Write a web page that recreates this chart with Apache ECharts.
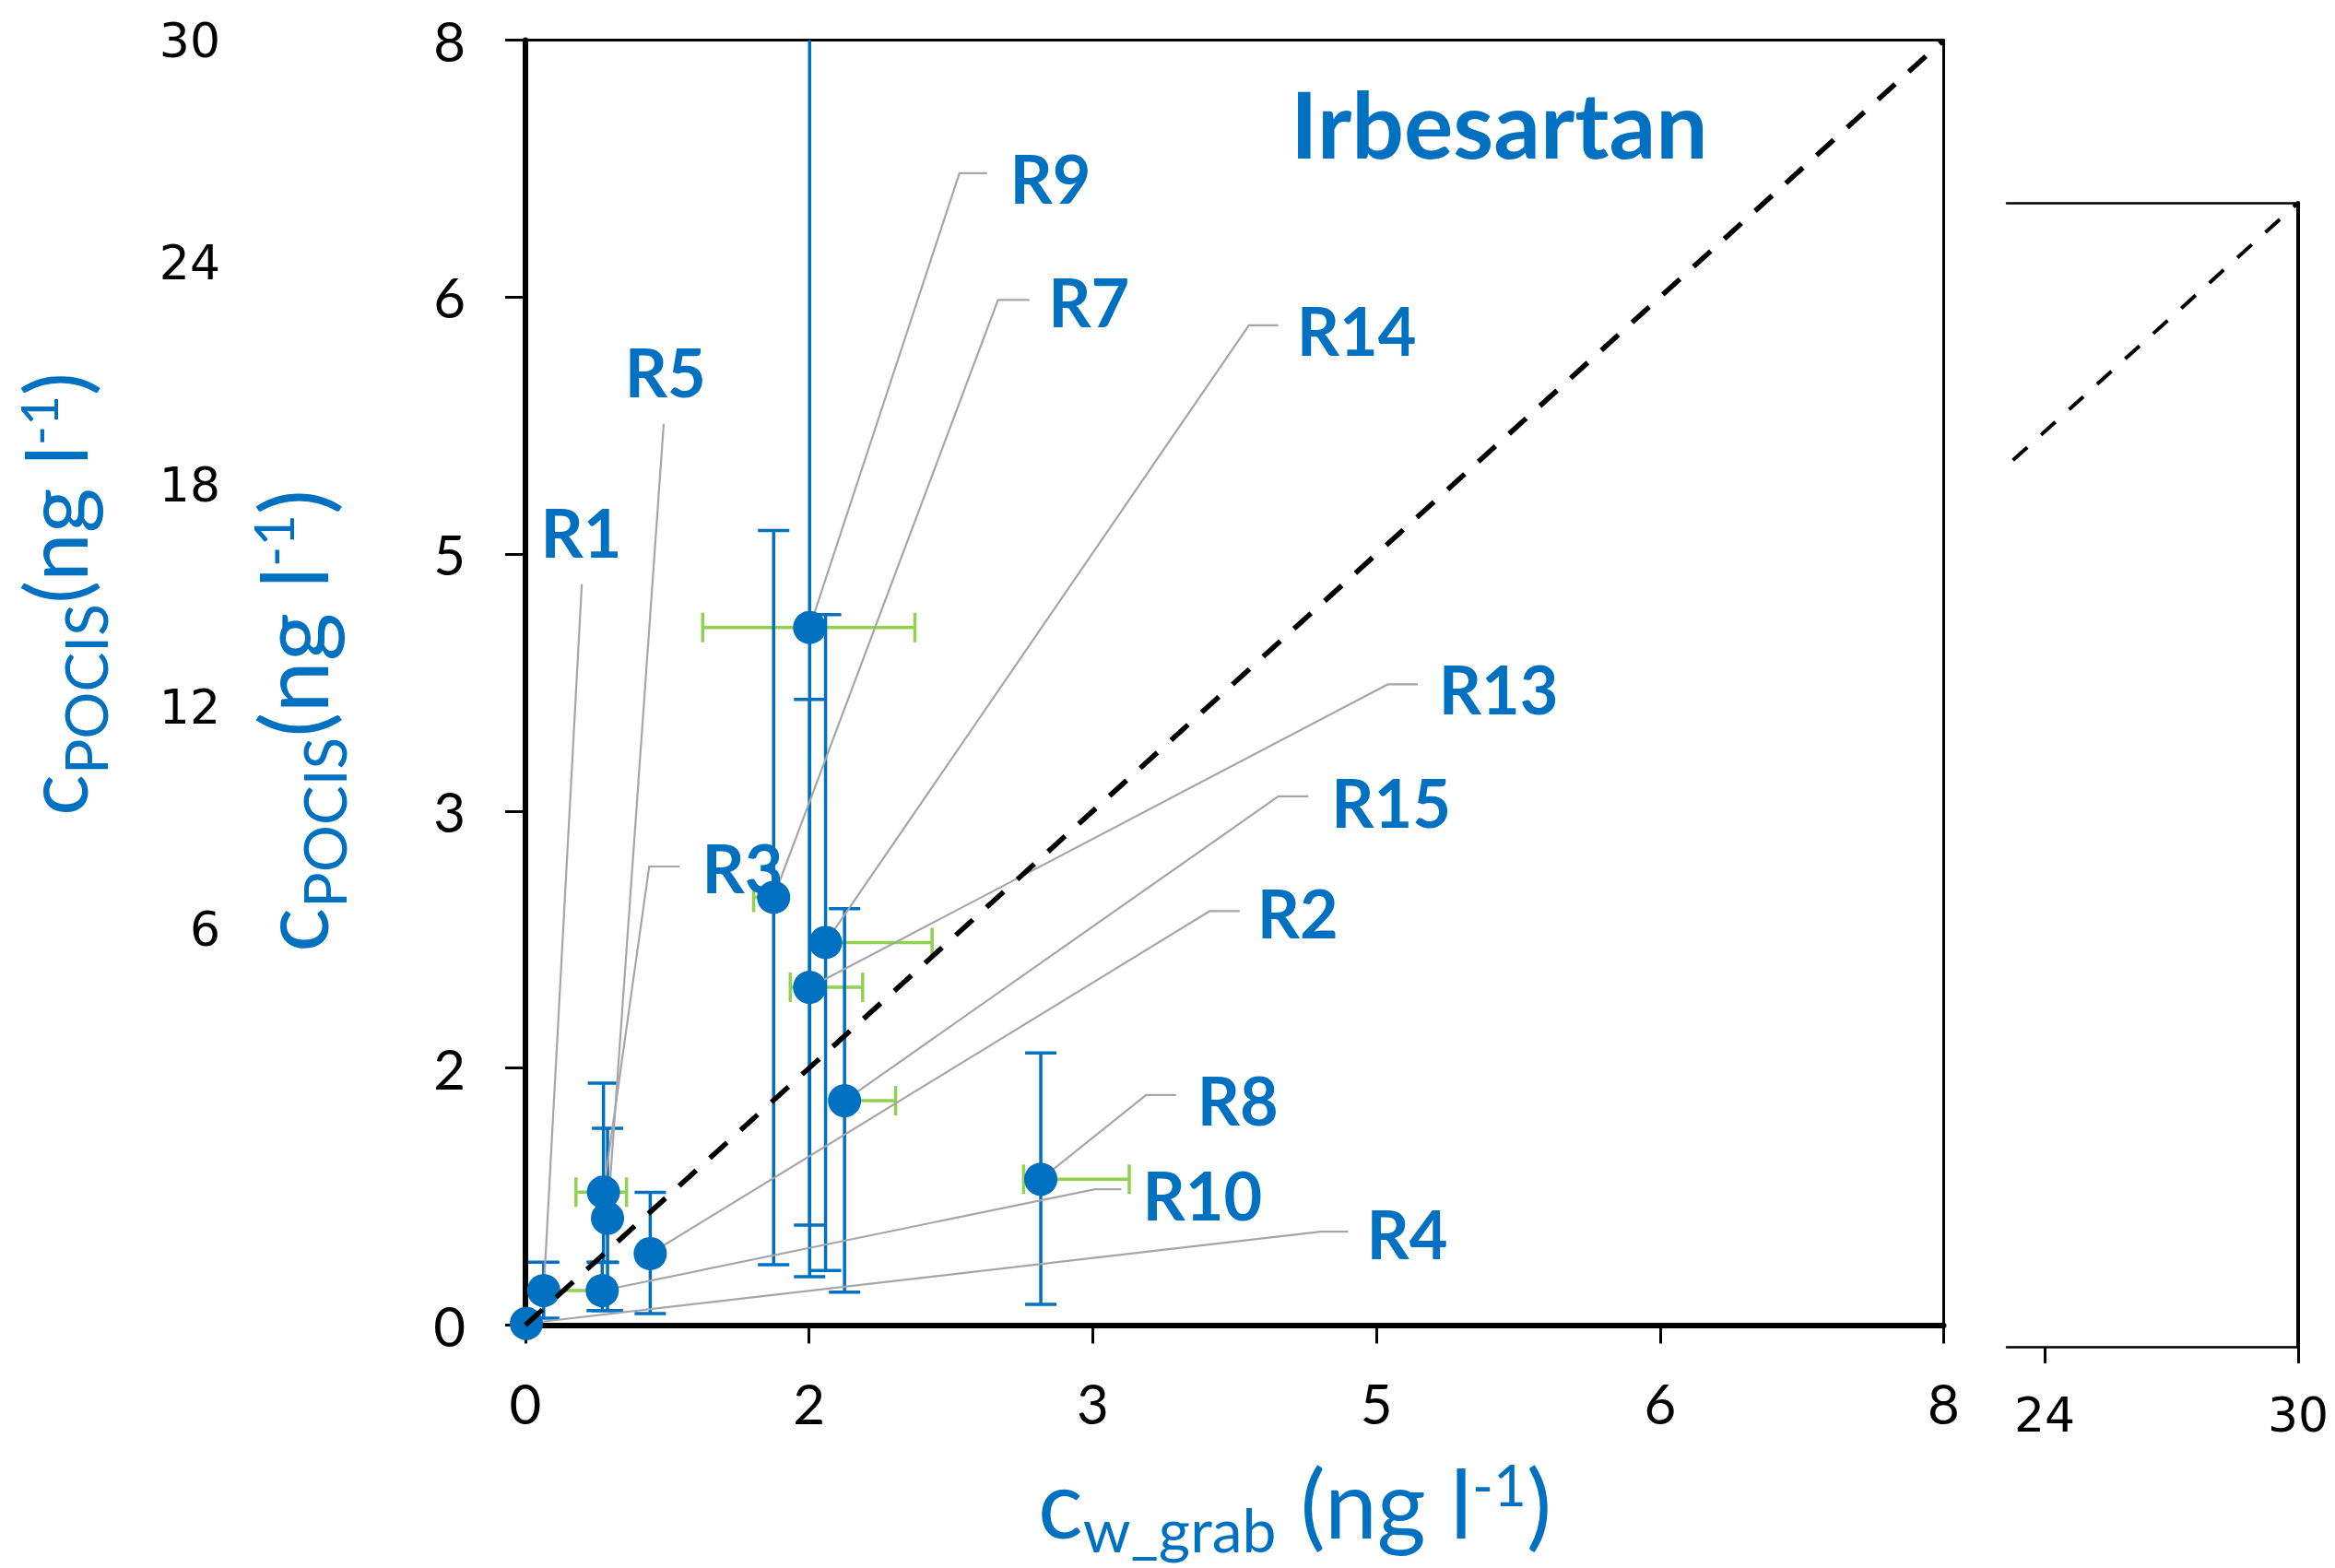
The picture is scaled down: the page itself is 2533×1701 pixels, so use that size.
<!DOCTYPE html>
<html>
<head>
<meta charset="utf-8">
<title>Irbesartan</title>
<script src="https://cdn.jsdelivr.net/npm/echarts@6.0.0/dist/echarts.min.js"></script>
<style>
  html, body { margin: 0; padding: 0; background: #ffffff; }
  #main { width: 2533px; height: 1701px; }
</style>
</head>
<body>
<div id="main"></div>
<script>
const BLUE = '#0070C0';
const GREEN = '#92D050';
const GREY = '#A6A6A6';
const LATO = 'Lato, "Liberation Sans", sans-serif';
const DEJAVU = '"DejaVu Sans", sans-serif';
const AXIS_MAX = 8;

// tick labels (main axes run 0..8 in steps of 1.6, shown rounded)
const mainTickLabels = ['0', '2', '3', '5', '6', '8'];
const ghostYLabels = ['', '6', '12', '18', '24', '30'];
const insetXLabels = [24, 30];

// points: c_w_grab (x) vs c_POCIS (y)
const pointX = [0.005, 0.103, 0.433, 0.44, 0.463, 0.704, 1.40, 1.603, 1.693, 1.603, 1.80, 2.907];
const pointY = [0.01, 0.215, 0.215, 0.828, 0.665, 0.445, 2.663, 4.343, 2.382, 2.103, 1.397, 0.908];
const yErrLow = [null, 0.043, 0.091, 0.39, 0.09, 0.072, 0.376, 0.301, 0.34, 0.623, 0.205, 0.129];
const yErrHigh = [null, 0.391, 0.391, 1.506, 1.225, 0.827, 4.947, 8.6, 4.423, 3.895, 2.593, 1.694];
const xErrLow = [null, 0.103, null, 0.285, null, null, 1.287, 1.0, 1.693, 1.494, 1.80, 2.81];
const xErrHigh = [null, 0.40, null, 0.57, null, null, 1.40, 2.197, 2.294, 1.902, 2.088, 3.406];

// site labels and their leader lines
const siteNames = ['R1', 'R5', 'R3', 'R9', 'R7', 'R14', 'R13', 'R15', 'R2', 'R8', 'R10', 'R4'];
const siteTarget = [1, 4, 3, 7, 6, 8, 9, 10, 5, 11, 2, 0];
const siteLabelX = [0.086, 0.56, 0.996, 2.732, 2.95, 4.351, 5.152, 4.546, 4.127, 3.789, 3.481, 4.745];
const siteLabelY = [4.939, 5.935, 2.849, 7.143, 6.373, 6.197, 3.96, 3.259, 2.568, 1.403, 0.812, 0.571];
const kneeX = [0.318, 0.78, 0.698, 2.448, 2.666, 4.081, 4.864, 4.247, 3.859, 3.501, 3.212, 4.486];
const kneeY = [4.613, 5.611, 2.855, 7.171, 6.382, 6.225, 3.989, 3.292, 2.577, 1.432, 0.846, 0.582];
const leaderEndX = [0.318, 0.78, 0.87, 2.604, 2.843, 4.246, 5.033, 4.416, 4.029, 3.67, 3.361, 4.641];

// 1:1 lines
const oneToOneMain = [0, 8];
const oneToOneInset = [23.25, 30];

const measureCtx = document.createElement('canvas').getContext('2d');
function textWidth(str, size) {
  measureCtx.font = size + 'px ' + LATO;
  return measureCtx.measureText(str).width;
}
function midOffset(size, weight) {
  measureCtx.font = (weight || 'normal') + ' ' + size + 'px ' + LATO;
  measureCtx.textBaseline = 'alphabetic';
  const m = measureCtx.measureText('c');
  if (m.fontBoundingBoxAscent) {
    return (m.fontBoundingBoxAscent - m.fontBoundingBoxDescent) / 2;
  }
  return 0.387 * size;
}

// axis title with sub/superscripts, laid out run by run
function titleGroup(parts, x, y, rotation) {
  let cursor = 0;
  const children = parts.map(function (p) {
    const el = {
      type: 'text',
      x: cursor,
      y: (p.shift || 0) - midOffset(p.size),
      style: {
        text: p.text,
        font: p.size + 'px ' + LATO,
        fill: BLUE,
        textAlign: 'left', textVerticalAlign: 'middle',
        align: 'left', verticalAlign: 'middle'
      }
    };
    cursor += textWidth(p.text, p.size);
    return el;
  });
  return { type: 'group', x: x, y: y, rotation: rotation, silent: true, children: children };
}

function capLine(x1, y1, x2, y2, color) {
  return { type: 'line', shape: { x1: x1, y1: y1, x2: x2, y2: y2 }, style: { stroke: color, lineWidth: 3.5 } };
}

function yErrorItem(params, api) {
  const x = api.value(0), y = api.value(1), lo = api.value(2), hi = api.value(3);
  const pLo = api.coord([x, lo]);
  const pHi = api.coord([x, Math.min(hi, AXIS_MAX)]);
  const children = [capLine(pLo[0], pLo[1], pHi[0], pHi[1], BLUE)];
  if (lo < y) children.push(capLine(pLo[0] - 17, pLo[1], pLo[0] + 17, pLo[1], BLUE));
  if (hi > y && hi <= AXIS_MAX) children.push(capLine(pHi[0] - 17, pHi[1], pHi[0] + 17, pHi[1], BLUE));
  return { type: 'group', children: children };
}

function xErrorItem(params, api) {
  const x = api.value(0), y = api.value(1), lo = api.value(2), hi = api.value(3);
  const pLo = api.coord([lo, y]);
  const pHi = api.coord([hi, y]);
  const children = [capLine(pLo[0], pLo[1], pHi[0], pHi[1], GREEN)];
  if (lo < x) children.push(capLine(pLo[0], pLo[1] - 16, pLo[0], pLo[1] + 16, GREEN));
  if (hi > x) children.push(capLine(pHi[0], pHi[1] - 16, pHi[0], pHi[1] + 16, GREEN));
  return { type: 'group', children: children };
}

function leaderItem(params, api) {
  const pts = [
    api.coord([api.value(0), api.value(1)]),
    api.coord([api.value(2), api.value(3)]),
    api.coord([api.value(4), api.value(3)])
  ];
  return { type: 'polyline', shape: { points: pts }, style: { stroke: GREY, lineWidth: 2.2, fill: null } };
}

function siteLabelItem(params, api) {
  const p = api.coord([api.value(0), api.value(1)]);
  return {
    type: 'text',
    x: p[0],
    y: p[1],
    style: {
      text: siteNames[params.dataIndex],
      font: 'bold 72px ' + LATO,
      fill: BLUE,
      textAlign: 'left', textVerticalAlign: 'middle',
      align: 'left', verticalAlign: 'middle'
    }
  };
}

const yErrData = [];
const xErrData = [];
pointX.forEach(function (x, i) {
  if (yErrLow[i] != null) yErrData.push([x, pointY[i], yErrLow[i], yErrHigh[i]]);
  if (xErrLow[i] != null) xErrData.push([x, pointY[i], xErrLow[i], xErrHigh[i]]);
});
const leaderData = siteNames.map(function (n, i) {
  const t = siteTarget[i];
  return [pointX[t], pointY[t], kneeX[i], kneeY[i], leaderEndX[i]];
});
const labelData = siteNames.map(function (n, i) { return [siteLabelX[i], siteLabelY[i]]; });

const mainLabelFmt = function (v) { return mainTickLabels[Math.round(v / 1.6)]; };
const lineOnly = function (width) {
  return { show: true, onZero: false, lineStyle: { color: '#000', width: width } };
};

const myChart = echarts.init(document.getElementById('main'), null, { renderer: 'svg' });
const option = {
  animation: false,
  backgroundColor: '#ffffff',
  grid: [
    { left: 570, top: 43.5, width: 1538.5, height: 1394, containLabel: false, outerBoundsMode: 'none' },
    { left: 2177, top: 220, width: 316, height: 1241, containLabel: false, outerBoundsMode: 'none' },
    { left: 250, top: 44, width: 10, height: 1205, containLabel: false, outerBoundsMode: 'none' }
  ],
  xAxis: [
    {
      gridIndex: 0, type: 'value', min: 0, max: 8, interval: 1.6, position: 'bottom',
      axisLine: lineOnly(6),
      axisTick: { show: true, length: 20, lineStyle: { color: '#000', width: 3 } },
      axisLabel: { margin: 54, fontFamily: LATO, fontSize: 60, color: '#000', formatter: mainLabelFmt },
      splitLine: { show: false }
    },
    {
      gridIndex: 0, type: 'value', min: 0, max: 8, position: 'top',
      axisLine: lineOnly(3), axisTick: { show: false }, axisLabel: { show: false }, splitLine: { show: false }
    },
    {
      gridIndex: 1, type: 'value', min: 23.105, max: 30, position: 'bottom',
      axisLine: lineOnly(2.5),
      axisTick: { show: true, customValues: insetXLabels, length: 18, lineStyle: { color: '#000', width: 3 } },
      axisLabel: { customValues: insetXLabels, margin: 48, fontFamily: DEJAVU, fontSize: 52, color: '#000' },
      splitLine: { show: false }
    },
    {
      gridIndex: 1, type: 'value', min: 23.105, max: 30, position: 'top',
      axisLine: lineOnly(2.5), axisTick: { show: false }, axisLabel: { show: false }, splitLine: { show: false }
    },
    { gridIndex: 2, type: 'value', min: 0, max: 1, show: false }
  ],
  yAxis: [
    {
      gridIndex: 0, type: 'value', min: 0, max: 8, interval: 1.6, position: 'left',
      axisLine: lineOnly(6),
      axisTick: { show: true, length: 22, lineStyle: { color: '#000', width: 3 } },
      axisLabel: { margin: 65, fontFamily: LATO, fontSize: 60, color: '#000', formatter: mainLabelFmt },
      splitLine: { show: false }
    },
    {
      gridIndex: 0, type: 'value', min: 0, max: 8, position: 'right',
      axisLine: lineOnly(3), axisTick: { show: false }, axisLabel: { show: false }, splitLine: { show: false }
    },
    {
      gridIndex: 1, type: 'value', min: 0, max: 30, position: 'right',
      axisLine: lineOnly(4), axisTick: { show: false }, axisLabel: { show: false }, splitLine: { show: false }
    },
    {
      gridIndex: 2, type: 'value', min: 0, max: 30, interval: 6, position: 'left',
      axisLine: { show: false }, axisTick: { show: false }, splitLine: { show: false },
      axisLabel: {
        margin: 11, fontFamily: DEJAVU, fontSize: 52, color: '#000',
        formatter: function (v) { return ghostYLabels[Math.round(v / 6)]; }
      }
    }
  ],
  series: [
    {
      type: 'line', xAxisIndex: 0, yAxisIndex: 0, showSymbol: false, silent: true,
      data: [[oneToOneMain[0], oneToOneMain[0]], [oneToOneMain[1], oneToOneMain[1]]],
      lineStyle: { color: '#000', width: 5.5, type: [25, 20] }
    },
    {
      type: 'line', xAxisIndex: 2, yAxisIndex: 2, showSymbol: false, silent: true,
      data: [[oneToOneInset[0], oneToOneInset[0]], [oneToOneInset[1], oneToOneInset[1]]],
      lineStyle: { color: '#000', width: 4, type: [21, 20] }
    },
    { type: 'custom', xAxisIndex: 0, yAxisIndex: 0, renderItem: xErrorItem, data: xErrData, silent: true },
    { type: 'custom', xAxisIndex: 0, yAxisIndex: 0, renderItem: yErrorItem, data: yErrData, silent: true },
    {
      type: 'scatter', xAxisIndex: 0, yAxisIndex: 0, symbol: 'circle', symbolSize: 36,
      itemStyle: { color: BLUE, opacity: 1 },
      data: pointX.map(function (x, i) { return [x, pointY[i]]; })
    },
    { type: 'custom', xAxisIndex: 0, yAxisIndex: 0, renderItem: leaderItem, data: leaderData, silent: true },
    { type: 'custom', xAxisIndex: 0, yAxisIndex: 0, renderItem: siteLabelItem, data: labelData, silent: true }
  ],
  graphic: [
    {
      type: 'text', x: 1400, y: 172 - midOffset(100, 'bold'), silent: true,
      style: {
        text: 'Irbesartan', font: 'bold 100px ' + LATO, fill: BLUE,
        textAlign: 'left', textVerticalAlign: 'middle', align: 'left', verticalAlign: 'middle'
      }
    },
    titleGroup([
      { text: 'c', size: 102 },
      { text: 'w_grab', size: 66, shift: 15 },
      { text: ' (ng l', size: 102 },
      { text: '-1', size: 62, shift: -35 },
      { text: ')', size: 102 }
    ], 1126, 1669, 0),
    titleGroup([
      { text: 'c', size: 94 },
      { text: 'POCIS', size: 64, shift: 22 },
      { text: '(ng l', size: 94 },
      { text: '-1', size: 57, shift: -32 },
      { text: ')', size: 94 }
    ], 95, 885, Math.PI / 2),
    titleGroup([
      { text: 'c', size: 101 },
      { text: 'POCIS', size: 64, shift: 20 },
      { text: '(ng l', size: 101 },
      { text: '-1', size: 60, shift: -37 },
      { text: ')', size: 101 }
    ], 356, 1033, Math.PI / 2)
  ]
};
myChart.setOption(option);
</script>
</body>
</html>
